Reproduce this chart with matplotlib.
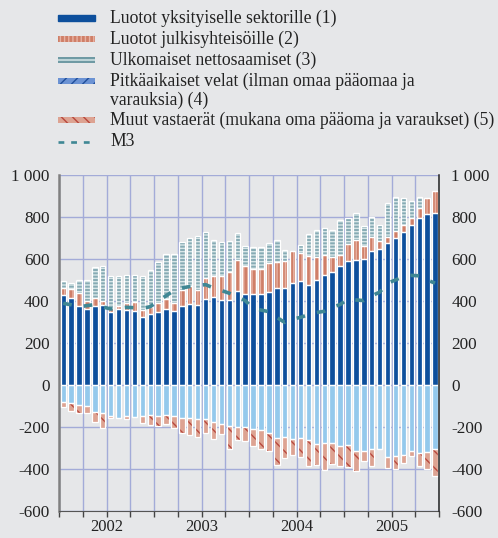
import numpy as np
import matplotlib
matplotlib.use('Agg')
import matplotlib.pyplot as plt
from matplotlib.patches import Rectangle
from matplotlib.lines import Line2D

plt.rcParams['font.family'] = ['Liberation Serif', 'DejaVu Serif']
plt.rcParams['hatch.linewidth'] = 1.0

# 12-month flows, EUR billion, Jan 2002 - Dec 2005
private_credit = [429, 416, 378, 362, 378, 381, 346, 362, 357, 351, 322, 338,
                  349, 362, 352, 378, 386, 381, 410, 418, 405, 405, 447, 434,
                  434, 434, 445, 461, 461, 485, 494, 474, 501, 525, 539, 565,
                  590, 596, 602, 637, 648, 678, 702, 728, 764, 797, 812, 821]
gov_credit = [32, 42, 59, 38, 35, 21, 19, 16, 32, 43, 37, 35,
              40, 48, 37, 75, 84, 72, 100, 102, 115, 135, 149, 134,
              119, 119, 137, 127, 131, 155, 136, 140, 108, 92, 70, 55,
              83, 93, 58, 70, 40, 27, 32, 32, 33, 47, 78, 104]
ext_assets = [33, 30, 65, 101, 148, 164, 152, 139, 133, 131, 161, 177,
              196, 215, 233, 230, 231, 257, 219, 169, 161, 145, 128, 96,
              106, 104, 94, 102, 49, 0, 37, 104, 128, 131, 128, 165,
              124, 131, 96, 93, 72, 163, 159, 132, 79, 49, 0, 0]
lt_liab = [-83, -86, -96, -102, -128, -131, -147, -155, -150, -152, -150, -141,
           -147, -144, -150, -155, -155, -160, -163, -176, -187, -195, -198, -198,
           -211, -214, -230, -251, -246, -256, -254, -262, -280, -275, -275, -291,
           -288, -312, -312, -307, -307, -344, -336, -331, -312, -326, -320, -304]
other = [-24, -37, -38, -29, -46, -72, -10, 0, -10, 0, -32, -51,
         -48, -43, -56, -75, -83, -86, -64, -83, -48, -112, -64, -69,
         -80, -90, -85, -128, -104, -75, -90, -125, -99, -128, -99, -93,
         -102, -99, -48, -77, 0, -51, -64, -40, -24, -58, -80, -131]
m3 = [389, 382, 372, 378, 383, 372, 362, 366, 370, 368, 365, 373,
      400, 425, 450, 462, 469, 474, 478, 462, 450, 437, 420, 402,
      365, 357, 349, 322, 298, 314, 322, 335, 345, 351, 370, 383,
      410, 405, 402, 425, 442, 485, 500, 517, 522, 520, 500, 485]
years = ['2002', '2003', '2004', '2005']
yticks = [-600, -400, -200, 0, 200, 400, 600, 800, 1000]

labels = ['Luotot yksityiselle sektorille (1)',
          'Luotot julkisyhteisöille (2)',
          'Ulkomaiset nettosaamiset (3)',
          'Pitkäaikaiset velat (ilman omaa pääomaa ja\nvarauksia) (4)',
          'Muut vastaerät (mukana oma pääoma ja varaukset) (5)',
          'M3']

bg = '#e6e7e9'
c_priv = '#0d4f9c'
c_gov, h_gov = '#cf7f68', '#e8b2a3'
c_ext, h_ext = '#86abb4', '#d8e6e8'
c_lt = '#94c9ec'
c_oth, h_oth = '#dda392', '#b8473c'
c_m3 = '#3f8794'
grid_c = '#a3abd8'

fig = plt.figure(figsize=(4.98, 5.38), dpi=100, facecolor=bg)
ax = fig.add_axes([0.119, 0.0502, 0.7625, 0.6245], facecolor=bg)

x = np.arange(len(private_credit))
w = 0.68

def draw(bottom, vals, face, hatch=None, hcol=None):
    ax.bar(x, vals, w, bottom=bottom, color=face, linewidth=0, zorder=2)
    if hatch:
        ax.bar(x, vals, w, bottom=bottom, fill=False, hatch=hatch,
               edgecolor=hcol, linewidth=0, zorder=3)
    ax.bar(x, vals, w, bottom=bottom, fill=False, edgecolor='white',
           linewidth=0.9, zorder=4)

pos = np.zeros(len(x))
draw(pos.copy(), private_credit, c_priv)
pos += private_credit
draw(pos.copy(), gov_credit, c_gov, '||||', h_gov)
pos += gov_credit
draw(pos.copy(), ext_assets, c_ext, '-----', h_ext)

neg = np.zeros(len(x))
draw(neg.copy(), lt_liab, c_lt)
neg += lt_liab
draw(neg.copy(), other, c_oth, '\\\\', h_oth)

ax.plot(x, m3, color=c_m3, lw=2.6, dashes=(2.4, 3.4), zorder=5)

ax.set_xlim(-0.5, len(x) - 0.5)
ax.set_ylim(-600, 1000)
ax.set_axisbelow(True)
ax.set_yticks(yticks)
ax.yaxis.grid(True, color=grid_c, lw=1)
ax.xaxis.remove_overlapping_locs = False
ax.set_xticks(np.arange(-0.5, len(x), 3))
ax.set_xticklabels([])
ax.xaxis.grid(True, color=grid_c, lw=1)
ax.set_xticks([5.5, 17.5, 29.5, 41.5], minor=True)
ax.set_xticklabels(years, minor=True, fontsize=12)
ax.tick_params(axis='x', which='major', direction='out', length=4,
               color='#444', width=1)
ax.tick_params(axis='x', which='minor', length=0, pad=6, colors='#222')

fmt = [f'{v:,}'.replace(',', ' ') for v in yticks]
ax.set_yticklabels(fmt, fontsize=12.3, color='#222')
ax.tick_params(axis='y', length=0, pad=7)

ax2 = ax.twinx()
ax2.set_ylim(ax.get_ylim())
ax2.set_yticks(yticks)
ax2.set_yticklabels(fmt, fontsize=12.3, color='#222')
ax2.tick_params(axis='y', length=0, pad=9)
for a in (ax, ax2):
    a.spines['top'].set_visible(False)
ax.spines['left'].set_color('#808080')
ax.spines['left'].set_linewidth(1.8)
ax.spines['right'].set_visible(False)
ax2.spines['left'].set_visible(False)
ax2.spines['bottom'].set_visible(False)
ax2.spines['right'].set_color('#222')
ax2.spines['right'].set_linewidth(1.1)
ax.spines['bottom'].set_color('#555')

# legend, laid out in pixel units
lax = fig.add_axes([0, 0, 1, 1], facecolor='none')
lax.set_xlim(0, 498)
lax.set_ylim(538, 0)
lax.axis('off')
rows = [18, 39, 60, 81, 120, 141.5]
lax.add_patch(Rectangle((58, rows[0] - 3), 37, 6, color=c_priv))
lax.add_patch(Rectangle((58, rows[1] - 3), 37, 6, facecolor=c_gov,
                        edgecolor=h_gov, hatch='||||', lw=0))
lax.add_patch(Rectangle((58, rows[2] - 3), 37, 6, facecolor='#bcd3d7', lw=0))
lax.add_patch(Rectangle((58, rows[2] - 3), 37, 1.8, facecolor='#6f9aa4', lw=0))
lax.add_patch(Rectangle((58, rows[2] + 1.2), 37, 1.8, facecolor='#6f9aa4', lw=0))
lax.add_patch(Rectangle((58, rows[3] - 3), 37, 6, facecolor='#6c93d4',
                        edgecolor='#1f4e9a', hatch='///', lw=0))
lax.add_patch(Rectangle((58, rows[4] - 3), 37, 6, facecolor=c_oth,
                        edgecolor=h_oth, hatch='\\\\\\', lw=0))
lax.add_line(Line2D([58, 95], [rows[5], rows[5]], color=c_m3, lw=1.9,
                    dashes=(2.2, 2.6)))
for r, lab in zip(rows, labels):
    lax.text(110, r - 8, lab, fontsize=12.7, color='#222', va='top',
             linespacing=1.08)

plt.savefig('out.png', dpi=100, facecolor=bg)
